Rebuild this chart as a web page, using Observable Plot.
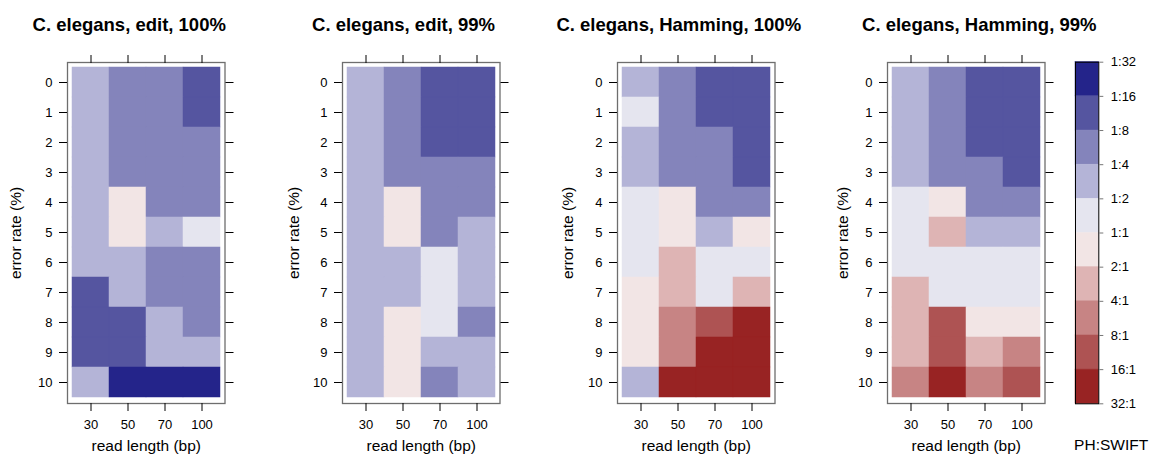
<!DOCTYPE html>
<html><head><meta charset="utf-8">
<script src="https://cdn.jsdelivr.net/npm/d3@7"></script>
<script src="https://cdn.jsdelivr.net/npm/@observablehq/plot@0.6"></script>
<style>
body{margin:0;background:#fff;}
#chart{position:relative;width:1159px;height:463px;overflow:hidden;}
#chart svg{position:absolute;top:0;max-width:none !important;}
</style></head><body><div id="chart"></div>
<script>
const readLengths = [30, 50, 70, 100];
const errorRates = [0, 1, 2, 3, 4, 5, 6, 7, 8, 9, 10];
const ratioLabels = ["1:32", "1:16", "1:8", "1:4", "1:2", "1:1", "2:1", "4:1", "8:1", "16:1", "32:1"];
const binColors = ["#24248a", "#5555a0", "#8484bb", "#b4b4d7", "#e5e5ef", "#f2e5e5", "#deb4b4", "#c78484", "#ae5353", "#982323"];
const panelTitles = ["C. elegans, edit, 100%", "C. elegans, edit, 99%", "C. elegans, Hamming, 100%", "C. elegans, Hamming, 99%"];
const xTitle = "read length (bp)";
const yTitle = "error rate (%)";
const legendTitle = "PH:SWIFT";

// rows: error rate 0..10; columns: read length 30, 50, 70, 100
// value: PH:SWIFT ratio class (0 = 1:32–1:16 ... 5 = 1:1–2:1 ... 9 = 16:1–32:1)
const editFull = [
  [3, 2, 2, 1],
  [3, 2, 2, 1],
  [3, 2, 2, 2],
  [3, 2, 2, 2],
  [3, 5, 2, 2],
  [3, 5, 3, 4],
  [3, 3, 2, 2],
  [1, 3, 2, 2],
  [1, 1, 3, 2],
  [1, 1, 3, 3],
  [3, 0, 0, 0]
];
const edit99 = [
  [3, 2, 1, 1],
  [3, 2, 1, 1],
  [3, 2, 1, 1],
  [3, 2, 2, 2],
  [3, 5, 2, 2],
  [3, 5, 2, 3],
  [3, 3, 4, 3],
  [3, 3, 4, 3],
  [3, 5, 4, 2],
  [3, 5, 3, 3],
  [3, 5, 2, 3]
];
const hammingFull = [
  [3, 2, 1, 1],
  [4, 2, 1, 1],
  [3, 2, 2, 1],
  [3, 2, 2, 1],
  [4, 5, 2, 2],
  [4, 5, 3, 5],
  [4, 6, 4, 4],
  [5, 6, 4, 6],
  [5, 7, 8, 9],
  [5, 7, 9, 9],
  [3, 9, 9, 9]
];
const hamming99 = [
  [3, 2, 1, 1],
  [3, 2, 1, 1],
  [3, 2, 1, 1],
  [3, 2, 2, 1],
  [4, 5, 2, 2],
  [4, 6, 3, 3],
  [4, 4, 4, 4],
  [6, 4, 4, 4],
  [6, 8, 5, 5],
  [6, 8, 6, 7],
  [7, 9, 7, 8]
];
const matrices = [editFull, edit99, hammingFull, hamming99];

// layout
const FONT = "'Liberation Sans', Arial, Helvetica, sans-serif";
const frameLefts = [66.7, 342, 617.3, 887];
const frameW = 157.5;
const ML = 66, SVGW = 262;
const titleDx = [-17, -17.7, -17.5, 13];
const yTitleDx = [-51, -48.7, -49, -44];
const binIndex = binColors.map((_, i) => i);
const colorScale = {type: "ordinal", domain: binIndex, range: binColors};

const root = document.getElementById("chart");

function fixTickFont(svg) {
  svg.querySelectorAll("g[aria-label*='tick label']").forEach(g => {
    g.setAttribute("font-size", "13");
    g.style.fontSize = "13px";
    g.setAttribute("fill", "#000");
    g.querySelectorAll("text").forEach(t => { t.style.fontSize = "13px"; t.style.fontFamily = FONT; });
  });
}

matrices.forEach((m, p) => {
  const data = [];
  m.forEach((row, i) => row.forEach((v, j) => data.push({len: readLengths[j], err: errorRates[i], bin: v})));
  const svg = Plot.plot({
    width: SVGW, height: 463,
    marginLeft: ML, marginRight: SVGW - ML - frameW,
    marginTop: 62, marginBottom: 60,
    style: {fontFamily: FONT, fontSize: "13px", color: "#000", background: "transparent", overflow: "visible"},
    x: {type: "band", domain: readLengths, padding: 0, inset: 3.4},
    y: {type: "band", domain: errorRates, padding: 0, inset: 2.8},
    color: colorScale,
    marks: [
      Plot.cell(data, {x: "len", y: "err", fill: "bin", stroke: "bin", strokeWidth: 0.5, inset: 0}),
      Plot.frame({stroke: "#6e6e6e", strokeWidth: 1.3}),
      Plot.axisX({anchor: "bottom", tickSize: 8, tickPadding: 8, label: null, fontSize: 13, stroke: "#000"}),
      Plot.axisX({anchor: "top", tickSize: 8, tickFormat: () => "", label: null, stroke: "#000"}),
      Plot.axisY({anchor: "left", tickSize: 8, tickPadding: 7, label: null, fontSize: 13, stroke: "#000"}),
      Plot.axisY({anchor: "right", tickSize: 8, tickFormat: () => "", label: null, stroke: "#000"}),
      Plot.text([panelTitles[p]], {text: d => d, frameAnchor: "top", textAnchor: "middle", dx: titleDx[p], dy: -45, fontWeight: "bold", fontSize: 18.5, fill: "#000"}),
      Plot.text([xTitle], {text: d => d, frameAnchor: "bottom", textAnchor: "middle", dy: 47.5, fontSize: 15.5, fill: "#000"}),
      Plot.text([yTitle], {text: d => d, frameAnchor: "left", textAnchor: "middle", dx: yTitleDx[p], rotate: -90, fontSize: 15.5, fill: "#000"})
    ]
  });
  fixTickFont(svg);
  svg.style.left = (frameLefts[p] - ML) + "px";
  root.appendChild(svg);
});

// legend
const legendLeft = 1060, barL = 15, barW = 23.3, LW = 99;
const legend = Plot.plot({
  width: LW, height: 463,
  marginLeft: barL, marginRight: LW - barL - barW,
  marginTop: 61.7, marginBottom: 463 - 403.3,
  style: {fontFamily: FONT, fontSize: "13px", color: "#000", background: "transparent", overflow: "visible"},
  x: {domain: [0, 1], axis: null},
  y: {domain: [0, ratioLabels.length - 1], reverse: true},
  color: colorScale,
  marks: [
    Plot.rect(binIndex, {x1: () => 0, x2: () => 1, y1: d => d, y2: d => d + 1, fill: d => d, stroke: d => d, strokeWidth: 0.5}),
    Plot.frame({stroke: "#000", strokeWidth: 1}),
    Plot.axisY({anchor: "right", ticks: ratioLabels.map((_, i) => i), tickFormat: i => ratioLabels[i], tickSize: 4, tickPadding: 8, label: null, fontSize: 13, stroke: "#777"}),
    Plot.text([legendTitle], {text: d => d, frameAnchor: "bottom", textAnchor: "middle", dx: 24, dy: 45.7, fontSize: 15.5, fill: "#000"})
  ]
});
fixTickFont(legend);
legend.style.left = legendLeft + "px";
root.appendChild(legend);
</script>
</body></html>
